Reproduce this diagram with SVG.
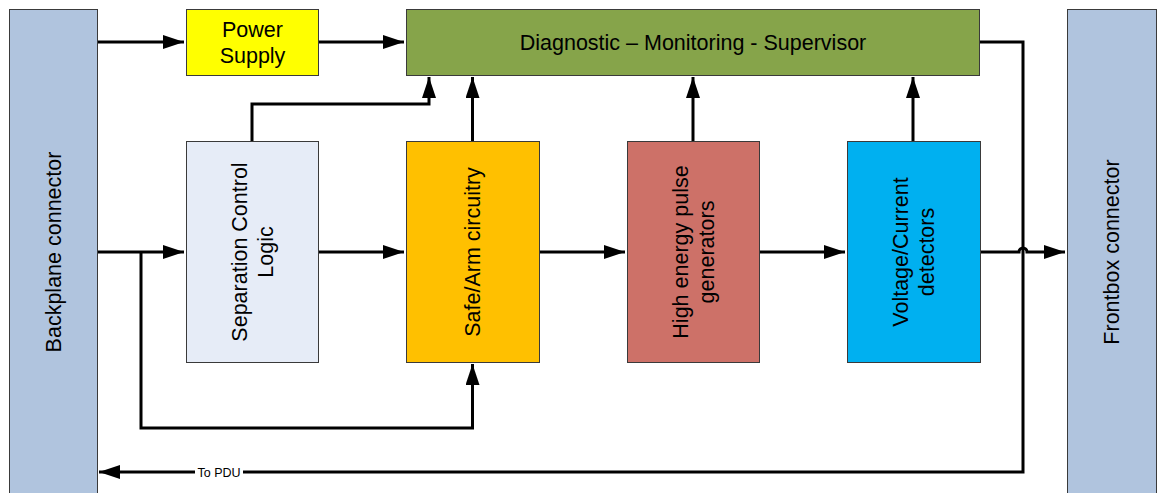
<svg xmlns="http://www.w3.org/2000/svg" width="1157" height="493" viewBox="0 0 1157 493">
<style>
.box{stroke:#3a3a3a;stroke-width:1}
.t{font-family:"Liberation Sans",Arial,sans-serif;font-size:21.5px;fill:#000;text-anchor:middle}
.s{font-family:"Liberation Sans",Arial,sans-serif;font-size:12.5px;fill:#000;text-anchor:middle}
.c{fill:none;stroke:#000;stroke-width:3}
</style>
<defs>
<marker id="ah" markerUnits="userSpaceOnUse" markerWidth="22" markerHeight="16" refX="21" refY="7" orient="auto">
<path d="M0,0 L21,7 L0,14 Z" fill="#000"/>
</marker>
</defs>
<rect width="1157" height="493" fill="#fff"/>
<g id="connectors">
<path class="c" d="M97,42 H184" marker-end="url(#ah)"/>
<path class="c" d="M318,42 H404" marker-end="url(#ah)"/>
<path class="c" d="M97,252 H184" marker-end="url(#ah)"/>
<path class="c" d="M318,252 H404" marker-end="url(#ah)"/>
<path class="c" d="M539,252 H625" marker-end="url(#ah)"/>
<path class="c" d="M759,252 H845" marker-end="url(#ah)"/>
<path class="c" d="M980,252 H1019 a4,4 0 0 1 8,0 H1065" marker-end="url(#ah)"/>
<path class="c" d="M252,141 V104 H429 V77" marker-end="url(#ah)"/>
<path class="c" d="M472.5,141 V77" marker-end="url(#ah)"/>
<path class="c" d="M693,141 V77" marker-end="url(#ah)"/>
<path class="c" d="M913,141 V77" marker-end="url(#ah)"/>
<path class="c" d="M141,252 V428 H472.5 V364" marker-end="url(#ah)"/>
<path class="c" d="M979,42 H1023 V472 H99" marker-end="url(#ah)"/>
<rect x="195" y="465" width="48" height="14" fill="#fff"/>
<text class="s" x="219" y="476.5">To PDU</text>
</g>
<g id="backplane">
<rect class="box" x="9.5" y="9.5" width="88" height="490" fill="#B0C4DE"/>
<text class="t" transform="translate(60.7,252) rotate(-90)">Backplane connector</text>
</g>
<g id="frontbox">
<rect class="box" x="1067.5" y="9.5" width="89" height="490" fill="#B0C4DE"/>
<text class="t" transform="translate(1119.2,252) rotate(-90)">Frontbox connector</text>
</g>
<g id="power">
<rect class="box" x="186.5" y="9.5" width="132" height="66" fill="#FFFF00"/>
<text class="t" x="252.5" y="36.7">Power</text>
<text class="t" x="252.5" y="62.7">Supply</text>
</g>
<g id="diag">
<rect class="box" x="406.5" y="9.5" width="573" height="66" fill="#86A44A"/>
<text class="t" x="693" y="49.7">Diagnostic – Monitoring - Supervisor</text>
</g>
<g id="sep">
<rect class="box" x="186.5" y="141.5" width="132" height="221" fill="#E6ECF7"/>
<text class="t" transform="translate(246.7,252) rotate(-90)">Separation Control</text>
<text class="t" transform="translate(272.7,252) rotate(-90)">Logic</text>
</g>
<g id="safearm">
<rect class="box" x="406.5" y="141.5" width="133" height="221" fill="#FFC000"/>
<text class="t" transform="translate(480.2,252) rotate(-90)">Safe/Arm circuitry</text>
</g>
<g id="hepg">
<rect class="box" x="627.5" y="141.5" width="132" height="221" fill="#CD7168"/>
<text class="t" transform="translate(687.7,252) rotate(-90)">High energy pulse</text>
<text class="t" transform="translate(713.7,252) rotate(-90)">generators</text>
</g>
<g id="vcd">
<rect class="box" x="847.5" y="141.5" width="133" height="221" fill="#00B0F0"/>
<text class="t" transform="translate(908.2,252) rotate(-90)">Voltage/Current</text>
<text class="t" transform="translate(934.2,252) rotate(-90)">detectors</text>
</g>
</svg>
